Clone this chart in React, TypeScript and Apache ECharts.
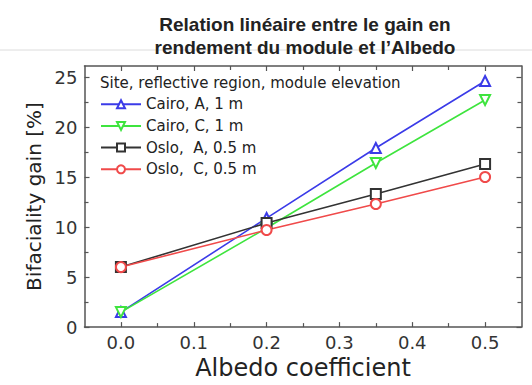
import React, { useEffect, useRef } from "react";
import * as echarts from "echarts";

const albedo = [0, 0.2, 0.35, 0.5];
const cairoA = [1.5, 10.9, 17.9, 24.6];
const cairoC = [1.5, 9.9, 16.4, 22.7];
const osloA = [6.0, 10.4, 13.3, 16.3];
const osloC = [6.0, 9.7, 12.3, 15.0];

const seriesNames = ["Cairo, A, 1 m", "Cairo, C, 1 m", "Oslo,  A, 0.5 m", "Oslo,  C, 0.5 m"];
const xMajor = [0, 0.1, 0.2, 0.3, 0.4, 0.5];
const xMinor = [0.05, 0.15, 0.25, 0.35, 0.45];
const yMajor = [0, 5, 10, 15, 20, 25];
const yMinor = [2.5, 7.5, 12.5, 17.5, 22.5];

const titleLines = ["Relation linéaire entre le gain en", "rendement du module et l’Albedo"];
const legendTitle = "Site, reflective region, module elevation";

const FONT = "DejaVu Sans";
const AXIS_COLOR = "#555";

export default function App() {
  const ref = useRef<HTMLDivElement>(null);
  useEffect(() => {
    if (!ref.current) return;
    const chart = echarts.init(ref.current, null, { renderer: "svg" });
    const pair = (xs: number[], ys: number[]) => xs.map((x, i) => [x, ys[i]]);

    const xAx = (pos: string, ticks: number[], len: number, labels: boolean, line: boolean, name?: string) => ({
      type: "value",
      gridIndex: 0,
      position: pos,
      min: -0.05,
      max: 0.55,
      splitLine: { show: false },
      axisLine: { show: line, onZero: false, lineStyle: { color: AXIS_COLOR, width: 1.5 } },
      axisTick: { show: true, inside: true, length: len, customValues: ticks, lineStyle: { color: AXIS_COLOR, width: 1.2 } },
      axisLabel: {
        show: labels,
        customValues: xMajor,
        margin: 6,
        formatter: (v: number) => v.toFixed(1),
        fontFamily: FONT,
        fontSize: 18,
        color: "#333",
      },
      name: name,
      nameLocation: "middle",
      nameGap: 27,
      nameTextStyle: { fontFamily: FONT, fontSize: 24, color: "#222" },
    });
    const yAx = (pos: string, ticks: number[], len: number, labels: boolean, line: boolean, name?: string) => ({
      type: "value",
      gridIndex: 0,
      position: pos,
      min: 0,
      max: 26.1,
      splitLine: { show: false },
      axisLine: { show: line, onZero: false, lineStyle: { color: AXIS_COLOR, width: 1.5 } },
      axisTick: { show: true, inside: true, length: len, customValues: ticks, lineStyle: { color: AXIS_COLOR, width: 1.2 } },
      axisLabel: {
        show: labels,
        customValues: yMajor,
        margin: 7,
        fontFamily: FONT,
        fontSize: 18,
        color: "#333",
      },
      name: name,
      nameLocation: "middle",
      nameGap: 40,
      nameTextStyle: { fontFamily: FONT, fontSize: 20, color: "#222" },
    });

    const mk = (name: string, ys: number[], color: string, symbol: string, rotate = 0) => ({
      type: "line",
      name,
      xAxisIndex: 0,
      yAxisIndex: 0,
      data: pair(albedo, ys),
      symbol,
      symbolSize: 10,
      symbolRotate: rotate,
      lineStyle: { color, width: 1.6 },
      itemStyle: { color, borderColor: color, borderWidth: 1.5 },
    });

    chart.setOption({
      animation: false,
      backgroundColor: "#fff",
      grid: { left: 84.5, right: 10.5, top: 66, bottom: 56.7, containLabel: false },
      xAxis: [
        xAx("bottom", xMajor, 5, true, true, "Albedo coefficient"),
        xAx("bottom", xMinor, 4, false, false),
        xAx("top", xMajor, 5, false, true),
        xAx("top", xMinor, 4, false, false),
      ],
      yAxis: [
        yAx("left", yMajor, 5, true, true, "Bifaciality gain [%]"),
        yAx("left", yMinor, 4, false, false),
        yAx("right", yMajor, 5, false, true),
        yAx("right", yMinor, 4, false, false),
      ],
      legend: {
        orient: "vertical",
        left: 100,
        top: 96.7,
        padding: 0,
        itemGap: 6.7,
        itemWidth: 40,
        itemHeight: 10,
        textStyle: { fontFamily: FONT, fontSize: 15, color: "#222" },
        data: seriesNames,
      },
      graphic: [
        {
          type: "line",
          shape: { x1: 0, y1: 50, x2: 532, y2: 50 },
          style: { stroke: "#dcdcdc", lineWidth: 1 },
          z: 0,
        },
        {
          type: "text",
          x: 305,
          y: 24,
          style: {
            text: titleLines[0],
            textAlign: "center",
            textVerticalAlign: "middle",
            font: "bold 19px 'Liberation Sans', Arial, sans-serif",
            fill: "#222",
          },
          z: 10,
        },
        {
          type: "text",
          x: 305,
          y: 47.5,
          style: {
            text: titleLines[1],
            textAlign: "center",
            textVerticalAlign: "middle",
            font: "bold 19px 'Liberation Sans', Arial, sans-serif",
            fill: "#222",
          },
          z: 10,
        },
        {
          type: "text",
          x: 100,
          y: 83,
          style: {
            text: legendTitle,
            textVerticalAlign: "middle",
            font: `15px '${FONT}'`,
            fill: "#222",
          },
          z: 10,
        },
      ],
      series: [
        mk(seriesNames[0], cairoA, "#3b3be8", "emptyTriangle"),
        mk(seriesNames[1], cairoC, "#3ee43e", "emptyTriangle", 180),
        mk(seriesNames[2], osloA, "#333333", "emptyRect"),
        mk(seriesNames[3], osloC, "#f04a4a", "emptyCircle"),
      ],
    });
    return () => chart.dispose();
  }, []);
  return (
    <div
      ref={ref}
      style={{ position: "fixed", left: 0, top: 0, width: 532, height: 385, background: "#fff" }}
    />
  );
}
